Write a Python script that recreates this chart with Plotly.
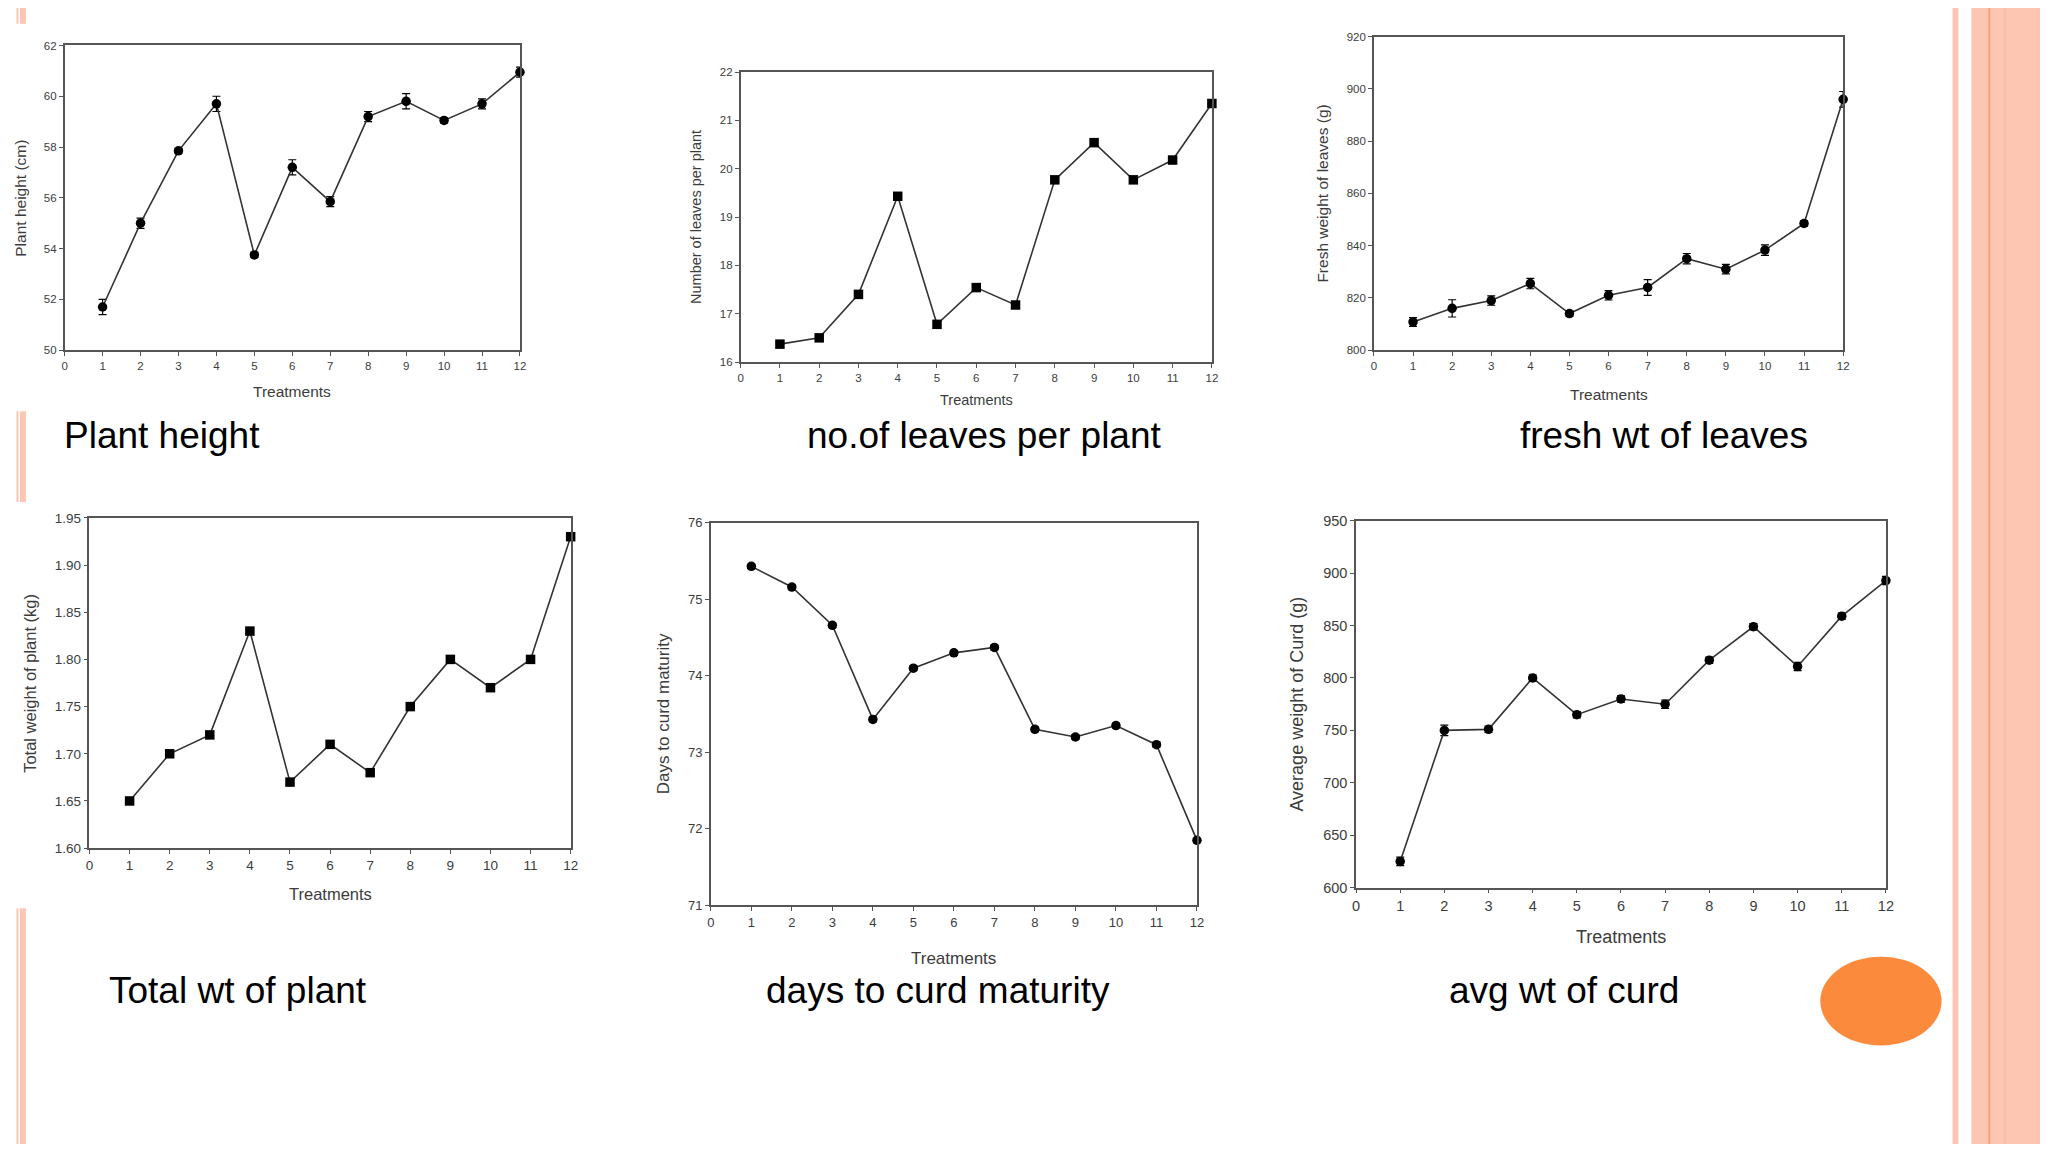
import plotly.graph_objects as go

# treatments on the x axis of every panel
treatments = [1, 2, 3, 4, 5, 6, 7, 8, 9, 10, 11, 12]
x_ticks = [0, 1, 2, 3, 4, 5, 6, 7, 8, 9, 10, 11, 12]

plant_height = [51.7, 55.0, 57.85, 59.7, 53.75, 57.2, 55.85, 59.2, 59.8, 59.05, 59.7, 60.95]
plant_height_err = [0.3, 0.2, 0.1, 0.3, 0.1, 0.3, 0.2, 0.2, 0.3, 0.1, 0.2, 0.2]

leaves = [16.37, 16.5, 17.4, 19.43, 16.78, 17.54, 17.18, 19.77, 20.54, 19.77, 20.18, 21.35]
leaves_err = [0.02, 0.02, 0.02, 0.02, 0.02, 0.02, 0.02, 0.02, 0.02, 0.02, 0.02, 0.02]

fresh_wt = [810.8, 816.0, 819.0, 825.5, 814.0, 821.0, 824.0, 835.0, 831.0, 838.3, 848.5, 896.0]
fresh_wt_err = [1.7, 3.3, 1.8, 2.0, 1.0, 1.8, 3.0, 2.0, 1.8, 2.0, 1.0, 3.0]

total_wt = [1.65, 1.70, 1.72, 1.83, 1.67, 1.71, 1.68, 1.75, 1.80, 1.77, 1.80, 1.93]
total_wt_err = [0.003, 0.003, 0.003, 0.003, 0.003, 0.003, 0.003, 0.003, 0.003, 0.003, 0.003, 0.003]

days = [75.43, 75.16, 74.66, 73.43, 74.1, 74.3, 74.37, 73.3, 73.2, 73.35, 73.1, 71.85]
days_err = [0.03, 0.03, 0.03, 0.03, 0.03, 0.03, 0.03, 0.03, 0.03, 0.03, 0.03, 0.03]

curd = [625, 750, 751, 800, 765, 780, 775, 817, 849, 811, 859, 893]
curd_err = [4, 5, 3, 3, 3, 3, 4, 3, 3, 4, 3, 4]

captions = ["Plant height", "no.of leaves per plant", "fresh wt of leaves",
            "Total wt of plant", "days to curd maturity", "avg wt of curd"]

W, H = 2048, 1152
FONT = "Liberation Sans, Arial, sans-serif"
AXIS_GREY = "#555555"
TEXT_GREY = "#3c3c3c"
PALE = "#fcc6b3"
ORANGE = "#fb8a3c"


def fx(px):
    return px / W


def fy(py):
    return 1 - py / H


# box = (left, right, top, bottom) in pixels
panels = [
    dict(box=(61, 519, 38, 347), y=plant_height, err=plant_height_err, rng=(50, 62), dtick=2,
         fmt="", ytitle="Plant height (cm)", sym="circle", tick=11.5, title=15.5, xgap=42, ygap=44),
    dict(box=(741, 1215, 65, 359), y=leaves, err=leaves_err, rng=(16, 22), dtick=1,
         fmt="", ytitle="Number of leaves per plant", sym="square", tick=11.5, title=14.5, xgap=39, ygap=45),
    dict(box=(1378, 1850, 29, 347), y=fresh_wt, err=fresh_wt_err, rng=(800, 920), dtick=20,
         fmt="", ytitle="Fresh weight of leaves (g)", sym="circle", tick=11.5, title=15.5, xgap=45, ygap=52),
    dict(box=(86, 570, 517, 852), y=total_wt, err=total_wt_err, rng=(1.60, 1.95), dtick=0.05,
         fmt=".2f", ytitle="Total weight of plant (kg)", sym="square", tick=13.5, title=16.5, xgap=46, ygap=60),
    dict(box=(711, 1200, 522, 910), y=days, err=days_err, rng=(71, 76), dtick=1,
         fmt="", ytitle="Days to curd maturity", sym="circle", tick=13, title=17, xgap=54, ygap=48),
    dict(box=(1360, 1893, 520, 892), y=curd, err=curd_err, rng=(600, 950), dtick=50,
         fmt="", ytitle="Average weight of Curd (g)", sym="circle", tick=14.5, title=18, xgap=50, ygap=59),
]

caption_pos = [(58, 434, "left"), (986, 434, "center"), (1670, 434, "center"),
               (235, 996, "center"), (940, 996, "center"), (1569, 996, "center")]

fig = go.Figure()
annotations = []
layout = {}

for i, p in enumerate(panels, start=1):
    l, r, t, b = p["box"]
    sfx = "" if i == 1 else str(i)
    fig.add_trace(go.Scatter(
        x=treatments, y=p["y"], mode="lines+markers",
        xaxis="x" + sfx, yaxis="y" + sfx,
        line=dict(color="#333333", width=1.6),
        marker=dict(color="black", size=9.5, symbol=p["sym"]),
        error_y=dict(type="data", array=p["err"], color="black", thickness=1.2, width=4),
        showlegend=False, cliponaxis=False,
    ))
    common = dict(showline=True, mirror=True, linecolor=AXIS_GREY, linewidth=1.5,
                  ticks="outside", ticklen=4, tickcolor=AXIS_GREY, tickwidth=1,
                  showgrid=False, zeroline=False,
                  tickfont=dict(family=FONT, size=p["tick"], color=TEXT_GREY))
    layout["xaxis" + sfx] = dict(domain=[fx(l), fx(r)], range=[0, 12], tickvals=x_ticks,
                                 anchor="y" + sfx, **common)
    layout["yaxis" + sfx] = dict(domain=[fy(b), fy(t)], range=list(p["rng"]), dtick=p["dtick"],
                                 tick0=p["rng"][0], tickformat=p["fmt"], anchor="x" + sfx, **common)
    annotations.append(dict(text="Treatments", xref="paper", yref="paper",
                            x=fx((l + r) / 2), y=fy(b + p["xgap"]), showarrow=False,
                            xanchor="center", yanchor="middle",
                            font=dict(family=FONT, size=p["title"], color=TEXT_GREY)))
    annotations.append(dict(text=p["ytitle"], xref="paper", yref="paper",
                            x=fx(l - p["ygap"]), y=fy((t + b) / 2), showarrow=False, textangle=-90,
                            xanchor="center", yanchor="middle",
                            font=dict(family=FONT, size=p["title"], color=TEXT_GREY)))

for text, (cx, cy, anchor) in zip(captions, caption_pos):
    annotations.append(dict(text=text, xref="paper", yref="paper", x=fx(cx), y=fy(cy),
                            showarrow=False, xanchor=anchor, yanchor="middle",
                            font=dict(family=FONT, size=37, color="black")))


def rect(x0, x1, y0, y1, color):
    return dict(type="rect", xref="paper", yref="paper", x0=fx(x0), x1=fx(x1),
                y0=fy(y1), y1=fy(y0), fillcolor=color, line=dict(width=0), layer="below")


shapes = []
# left accent bars
for y0, y1 in [(0, 16), (409, 501), (913, 1152)]:
    shapes.append(rect(12.5, 14.5, y0, y1, PALE))
    shapes.append(rect(16, 22, y0, y1, PALE))
# right stripes
shapes.append(rect(1960, 1966, 0, H, PALE))
shapes.append(rect(1979, 2048, 0, H, PALE))
shapes.append(rect(1996, 1998, 0, H, "#f9a27a"))
shapes.append(rect(2012, 2014, 0, H, "#f8bca5"))
# orange ellipse
shapes.append(dict(type="circle", xref="paper", yref="paper", x0=fx(1827), x1=fx(1949),
                   y0=fy(1052), y1=fy(962), fillcolor=ORANGE, line=dict(width=0)))

fig.update_layout(
    width=W, height=H, margin=dict(l=0, r=0, t=0, b=0),
    paper_bgcolor="white", plot_bgcolor="white",
    annotations=annotations, shapes=shapes, **layout,
)

# drop the browser's default page margin so the figure sits at the window origin
fig.write_html("out.html", config={"displayModeBar": False},
               post_script="document.body.style.margin = '0';")
